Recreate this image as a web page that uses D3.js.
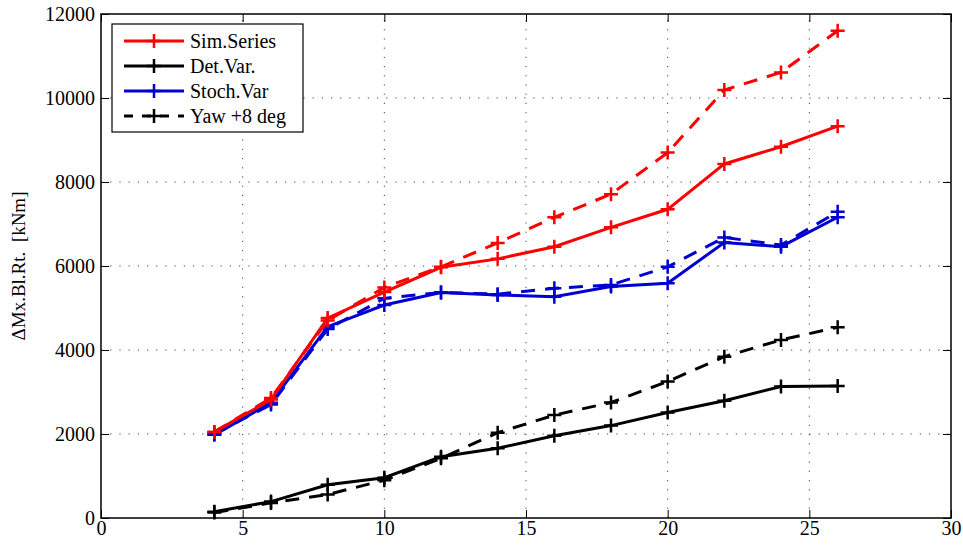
<!DOCTYPE html>
<html>
<head>
<meta charset="utf-8">
<script src="https://cdn.jsdelivr.net/npm/d3@7"></script>
<style>
  body { margin: 0; background: #fff; }
</style>
</head>
<body>
<div id="chart"></div>
<script>
const windSpeeds = [4, 6, 8, 10, 12, 14, 16, 18, 20, 22, 24, 26];

const simSeries = [2050, 2820, 4760, 5380, 5970, 6170, 6460, 6920, 7350, 8430, 8840, 9330];
const simSeriesYaw = [2050, 2860, 4700, 5490, 5980, 6550, 7160, 7710, 8700, 10190, 10610, 11600];
const detVar = [150, 390, 790, 960, 1460, 1660, 1960, 2200, 2510, 2790, 3130, 3140];
const detVarYaw = [130, 360, 560, 900, 1420, 2030, 2450, 2750, 3250, 3840, 4240, 4540];
const stochVar = [1980, 2745, 4555, 5070, 5370, 5310, 5270, 5510, 5590, 6560, 6460, 7160];
const stochVarYaw = [2000, 2700, 4500, 5230, 5370, 5330, 5470, 5550, 5980, 6680, 6500, 7290];

const xTicks = [0, 5, 10, 15, 20, 25, 30];
const yTicks = [0, 2000, 4000, 6000, 8000, 10000, 12000];

const legendItems = [
    { label: 'Sim.Series', color: '#ff0000', dash: null },
    { label: 'Det.Var.', color: '#000000', dash: null },
    { label: 'Stoch.Var', color: '#0000d0', dash: null },
    { label: 'Yaw +8 deg', color: '#000000', dash: '9,9' }
];

const series = [
    { values: detVarYaw, color: '#000000', dash: '14,10' },
    { values: detVar, color: '#000000', dash: null },
    { values: stochVarYaw, color: '#0000d0', dash: '14,10' },
    { values: stochVar, color: '#0000d0', dash: null },
    { values: simSeriesYaw, color: '#ff0000', dash: '14,10' },
    { values: simSeries, color: '#ff0000', dash: null }
];

const width = 963, height = 547;
const margin = { left: 101, right: 12, top: 14, bottom: 29 };
const serif = "'Liberation Serif'";

const svg = d3.select('#chart').append('svg')
    .attr('width', width)
    .attr('height', height);

const x = d3.scaleLinear().domain([0, 30]).range([margin.left, width - margin.right]);
const y = d3.scaleLinear().domain([0, 12000]).range([height - margin.bottom, margin.top]);

const gGrid = svg.append('g');
gGrid.selectAll('line.vg')
    .data(xTicks.slice(1, -1))
    .join('line')
    .attr('x1', d => x(d)).attr('x2', d => x(d))
    .attr('y1', y(0)).attr('y2', y(12000))
    .attr('stroke', '#444')
    .attr('stroke-width', 1)
    .attr('stroke-dasharray', '1.2,8');
gGrid.selectAll('line.hg')
    .data(yTicks.slice(1, -1))
    .join('line')
    .attr('x1', x(0)).attr('x2', x(30))
    .attr('y1', d => y(d)).attr('y2', d => y(d))
    .attr('stroke', '#444')
    .attr('stroke-width', 1)
    .attr('stroke-dasharray', '1.2,8');

// axes, ticks pointing inward
const tickLen = 8;
const fmt = d3.format('d');
svg.append('g')
    .attr('transform', `translate(0,${y(0)})`)
    .call(d3.axisBottom(x).tickValues(xTicks).tickFormat(fmt).tickSizeInner(-tickLen).tickSizeOuter(0).tickPadding(3))
    .call(g => g.select('.domain').remove());
svg.append('g')
    .attr('transform', `translate(0,${y(12000)})`)
    .call(d3.axisTop(x).tickValues(xTicks).tickSizeInner(-tickLen).tickSizeOuter(0).tickFormat(''))
    .call(g => g.select('.domain').remove());
svg.append('g')
    .attr('transform', `translate(${x(0)},0)`)
    .call(d3.axisLeft(y).tickValues(yTicks).tickFormat(fmt).tickSizeInner(-tickLen).tickSizeOuter(0).tickPadding(6))
    .call(g => g.select('.domain').remove());
svg.append('g')
    .attr('transform', `translate(${x(30)},0)`)
    .call(d3.axisRight(y).tickValues(yTicks).tickSizeInner(-tickLen).tickSizeOuter(0).tickFormat(''))
    .call(g => g.select('.domain').remove());

svg.selectAll('.tick text')
    .style('font-size', '20px')
    .style('font-family', serif)
    .attr('fill', '#000');
svg.selectAll('.tick line').attr('stroke', '#000');

svg.append('rect')
    .attr('x', x(0)).attr('y', y(12000))
    .attr('width', x(30) - x(0)).attr('height', y(0) - y(12000))
    .attr('fill', 'none')
    .attr('stroke', '#000')
    .attr('stroke-width', 1.5);

// lines
const line = d3.line()
    .x((d, i) => x(windSpeeds[i]))
    .y(d => y(d));

const plusPath = s => `M${-s},0H${s}M0,${-s}V${s}`;

series.forEach(s => {
    svg.append('path')
        .datum(s.values)
        .attr('d', line)
        .attr('fill', 'none')
        .attr('stroke', s.color)
        .attr('stroke-width', 3)
        .attr('stroke-dasharray', s.dash);
    svg.append('g').selectAll('path')
        .data(s.values)
        .join('path')
        .attr('transform', (d, i) => `translate(${x(windSpeeds[i])},${y(d)})`)
        .attr('d', plusPath(7))
        .attr('stroke', s.color)
        .attr('stroke-width', 2.5)
        .attr('fill', 'none');
});

// legend
const legend = svg.append('g').attr('transform', 'translate(112,24)');
legend.append('rect')
    .attr('width', 191).attr('height', 108)
    .attr('fill', '#fff')
    .attr('stroke', '#000')
    .attr('stroke-width', 1.2);
const item = legend.selectAll('g.item')
    .data(legendItems)
    .join('g')
    .attr('transform', (d, i) => `translate(0,${17 + i * 25})`);
item.append('line')
    .attr('x1', 12).attr('x2', 72)
    .attr('stroke', d => d.color)
    .attr('stroke-width', 3)
    .attr('stroke-dasharray', d => d.dash);
item.append('path')
    .attr('transform', 'translate(42,0)')
    .attr('d', plusPath(7))
    .attr('stroke', d => d.color)
    .attr('stroke-width', 2.5);
item.append('text')
    .attr('x', 78)
    .attr('dy', '0.35em')
    .style('font-size', '20px')
    .style('font-family', serif)
    .text(d => d.label);

// y label
svg.append('text')
    .attr('transform', `translate(25,${(y(0) + y(12000)) / 2}) rotate(-90)`)
    .attr('text-anchor', 'middle')
    .style('font-size', '19px')
    .style('font-family', serif)
    .style('white-space', 'pre')
    .text('ΔMx.Bl.Rt.  [kNm]');
</script>
</body>
</html>
